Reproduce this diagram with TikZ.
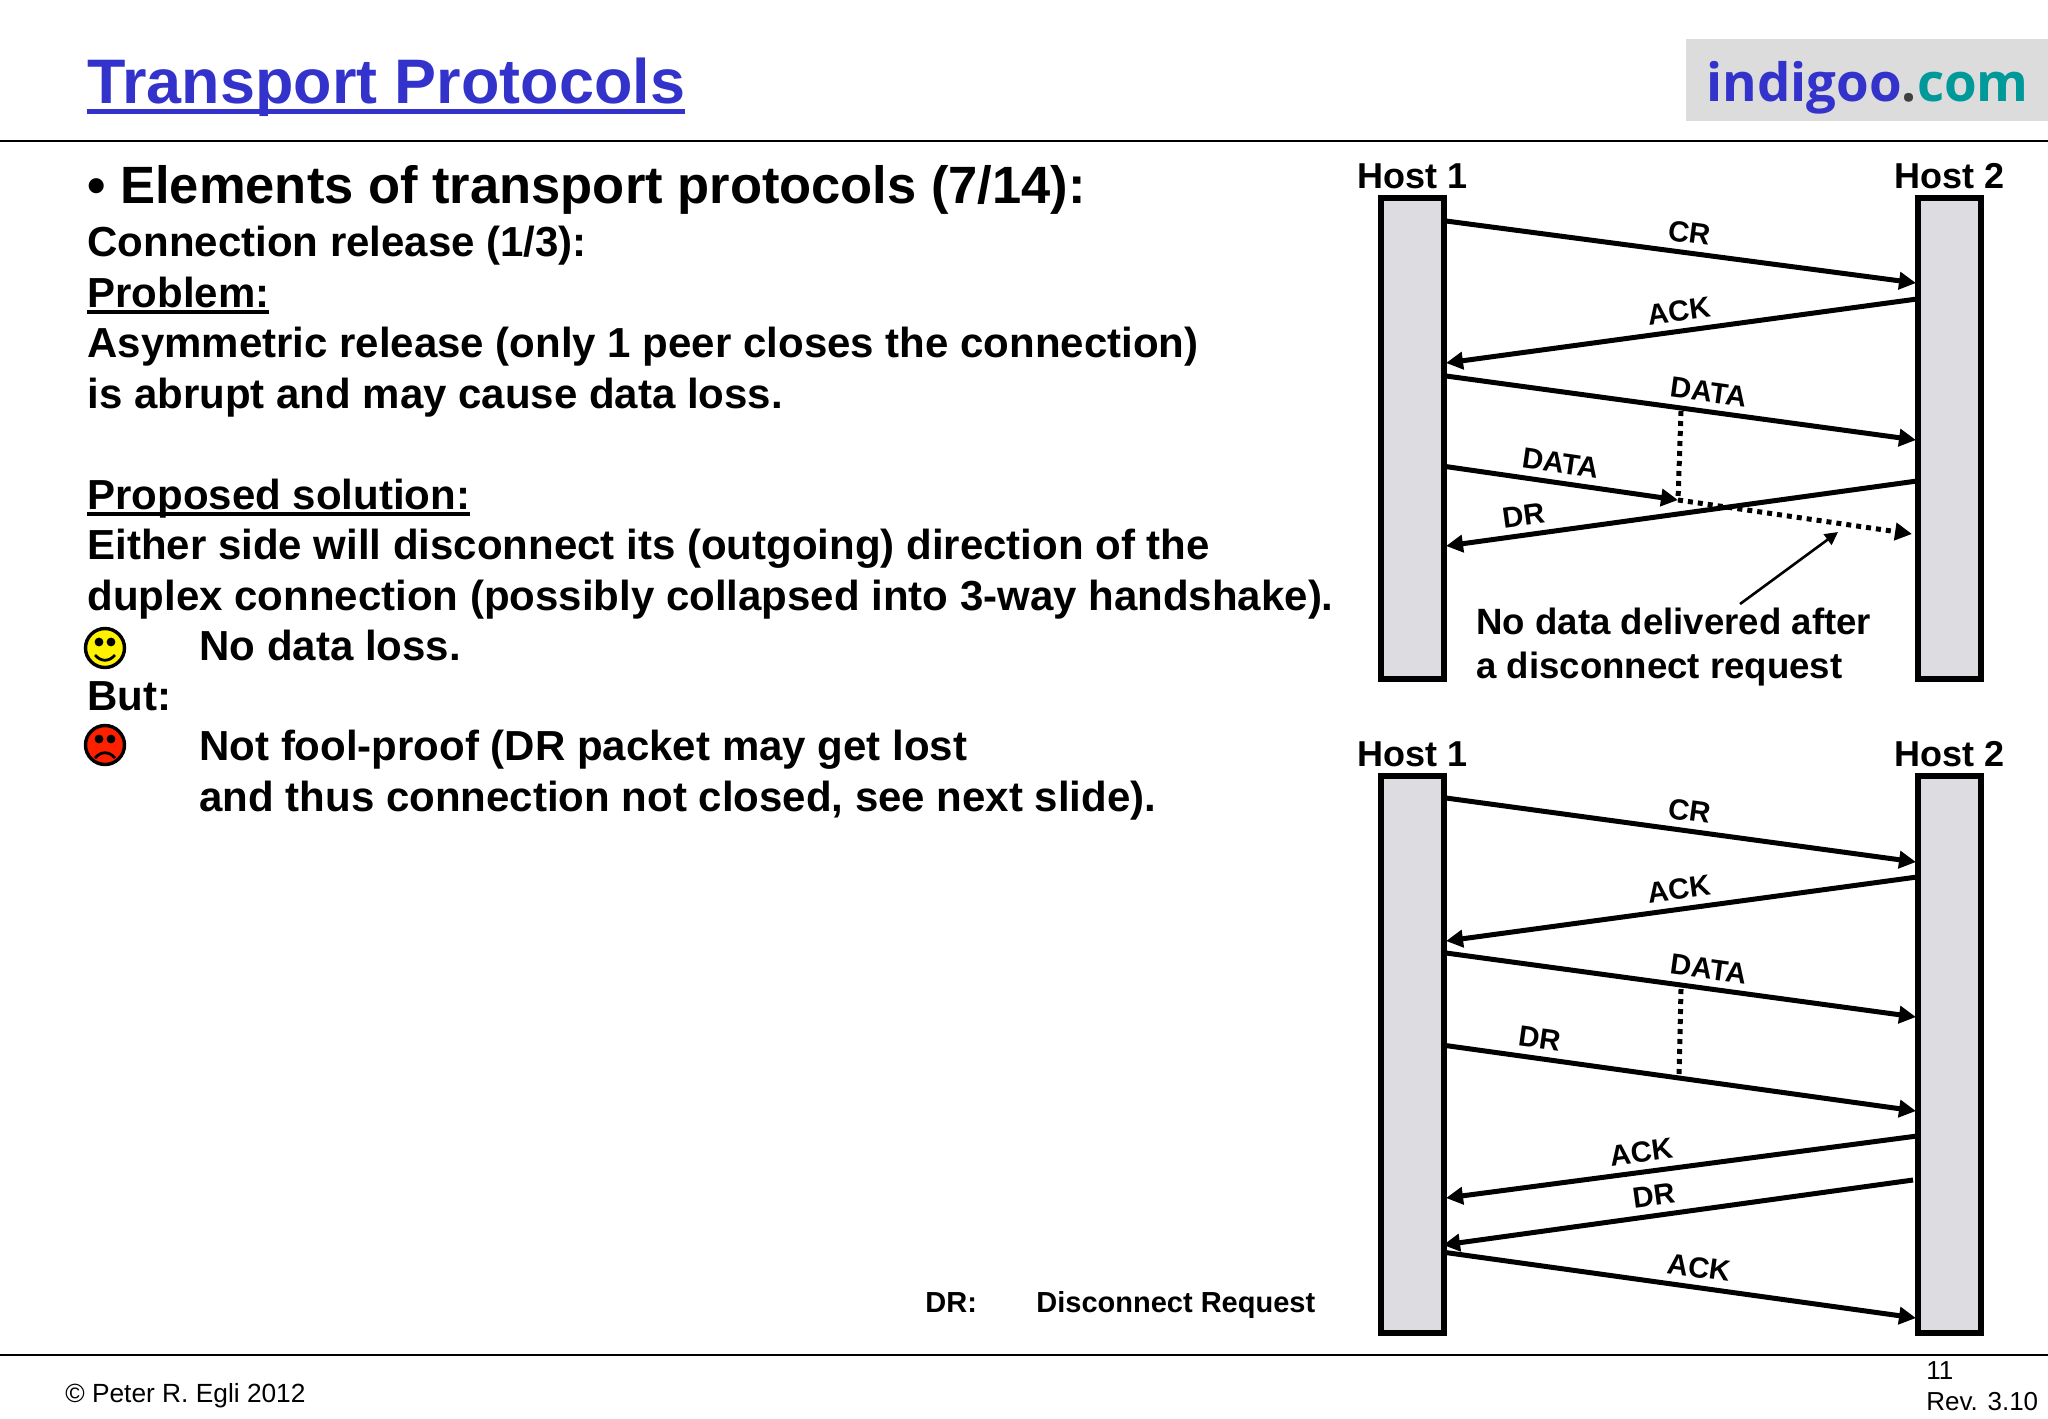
\documentclass[tikz,border=0pt]{standalone}
\usepackage{fontspec}
\setmainfont{Liberation Sans}
\newfontfamily\logofont{Open Sans}
\usetikzlibrary{arrows.meta,positioning}
\definecolor{slideblue}{HTML}{3333CC}
\definecolor{slideteal}{HTML}{009999}
\definecolor{slidegrey}{HTML}{DCDCDC}
\definecolor{hostgrey}{HTML}{DDDCE0}
\newcommand{\ulined}[1]{\sbox0{#1}\rlap{\rule[-.16em]{\wd0}{.08em}}\box0}

\begin{document}
\begin{tikzpicture}[%
  x=0.5pt, y=-0.5pt,
  every node/.style={inner sep=0pt},
  slidetext/.style={anchor=base west, align=left, font=\fontsize{21}{25.25}\selectfont\bfseries},
  hostbar/.style={draw, line width=2.7pt, fill=hostgrey, minimum width=31.5pt},
  hostname/.style={font=\fontsize{18}{20}\selectfont\bfseries},
  msg/.style={line width=2.5pt, -{Triangle[length=8.5pt,width=8.5pt]}},
  msgdots/.style={line width=2.5pt, dash pattern=on 2.5pt off 2.5pt},
  msgtext/.style={sloped, above=3.6pt, font=\fontsize{14.6}{16}\selectfont\bfseries},
  rulerline/.style={line width=1pt},
  face/.style={circle, draw, line width=1.7pt, minimum size=19.5pt}]
  \useasboundingbox (0,0) rectangle (2048,1418);

  \node [anchor=base west, text=slideblue, font=\fontsize{31.45}{36}\selectfont\bfseries] (title) at (87,104) {\ulined{Transport Protocols}};
  \node [fill=slidegrey, minimum width=181pt, minimum height=41pt] (logobox) at (1867,80) {};
  \node [anchor=base west, font=\fontsize{26.4}{32}\selectfont\logofont\bfseries] (logo) at (1706,102) {\textcolor{slideblue}{indigoo}\textcolor{darkgray}{.}\textcolor{slideteal}{com}};
  \coordinate (headL) at (0,141);
  \coordinate (headR) at (2048,141);
  \coordinate (footL) at (0,1355);
  \coordinate (footR) at (2048,1355);
  \draw [rulerline] (headL) -- (headR);
  \draw [rulerline] (footL) -- (footR);

  \node [anchor=base west, font=\fontsize{26.25}{30}\selectfont\bfseries] (heading) at (87,203) {• Elements of transport protocols (7/14):};
  \node [slidetext] (release) at (87,610) {Connection release (1/3):\\
    \ulined{Problem:}\\
    Asymmetric release (only 1 peer closes the connection)\\
    is abrupt and may cause data loss.\\[25.25pt]
    \ulined{Proposed solution:}\\
    Either side will disconnect its (outgoing) direction of the\\
    duplex connection (possibly collapsed into 3-way handshake).};
  \node [slidetext] (noloss) at (199,660) {No data loss.};
  \node [slidetext] (but) at (87,710) {But:};
  \node [slidetext] (notproof) at (199,811) {Not fool-proof (DR packet may get lost\\
    and thus connection not closed, see next slide).};

  \node [face, fill=yellow] (happy) at (105,648) {};
  \node [face, fill=red!75!orange] (sad) at (105,745) {};
  \fill ([shift={(-6,-6)}]happy.center) circle (2.2pt);
  \fill ([shift={(6,-6)}]happy.center) circle (2.2pt);
  \draw [line width=1.4pt] ([shift={(-10,7)}]happy.center) .. controls ([shift={(-4,14)}]happy.center) and ([shift={(4,14)}]happy.center) .. ([shift={(10,7)}]happy.center);
  \fill ([shift={(-6,-6)}]sad.center) circle (2.2pt);
  \fill ([shift={(6,-6)}]sad.center) circle (2.2pt);
  \draw [line width=1.4pt] ([shift={(-10,13)}]sad.center) .. controls ([shift={(-4,6)}]sad.center) and ([shift={(4,6)}]sad.center) .. ([shift={(10,13)}]sad.center);

  \node [hostbar, minimum height=240.5pt] (hostA) at (1412.5,438.5) {};
  \node [hostbar, minimum height=240.5pt] (hostB) at (1949.5,438.5) {};
  \node [hostbar, minimum height=278.5pt] (hostC) at (1412.5,1054.5) {};
  \node [hostbar, minimum height=278.5pt] (hostD) at (1949.5,1054.5) {};
  \node [hostname, above=3pt of hostA] (nameA) {Host 1};
  \node [hostname, above=3pt of hostB] (nameB) {Host 2};
  \node [hostname, above=3pt of hostC] (nameC) {Host 1};
  \node [hostname, above=3pt of hostD] (nameD) {Host 2};

  \coordinate (crA) at (1446,221);
  \coordinate (crB) at (1916,283);
  \coordinate (ackB) at (1917,299);
  \coordinate (ackA) at (1446,363);
  \coordinate (dataA) at (1446,376);
  \coordinate (dataB) at (1916,440);
  \coordinate (lostA) at (1442,466);
  \coordinate (lostM) at (1678,500);
  \coordinate (lostB) at (1912,534);
  \coordinate (lostT) at (1681,411);
  \coordinate (drB) at (1917,481);
  \coordinate (drA) at (1446,546);
  \coordinate (noteS) at (1740,604);
  \coordinate (noteE) at (1838,532);

  \draw [msg] (crA) -- node [msgtext, pos=.512] (crText) {CR} (crB);
  \draw [msg] (ackB) -- node [msgtext, pos=.5] (ackText) {ACK} (ackA);
  \draw [msg] (dataA) -- node [msgtext, pos=.553] (dataText) {DATA} (dataB);
  \draw [msg] (lostA) -- node [msgtext, pos=.49] (lostText) {DATA} (lostM);
  \draw [msg] (drB) -- node [msgtext, pos=.83] (drText) {DR} (drA);
  \draw [msgdots] (lostT) -- (lostM);
  \draw [msgdots, -{Triangle[length=8.5pt,width=8.5pt]}] (lostM) -- (lostB);
  \draw [line width=1.3pt, -{Triangle[length=6.5pt,width=6.5pt]}] (noteS) -- (noteE);
  \node [slidetext, font=\fontsize{18.3}{22}\selectfont\bfseries] (note) at (1476,678) {No data delivered after\\a disconnect request};

  \coordinate (cr2A) at (1446,798);
  \coordinate (cr2B) at (1916,862);
  \coordinate (ack2B) at (1917,877);
  \coordinate (ack2A) at (1446,941);
  \coordinate (data2A) at (1446,953);
  \coordinate (data2B) at (1916,1017);
  \coordinate (dr2A) at (1442,1045);
  \coordinate (dr2B) at (1916,1111);
  \coordinate (gapT) at (1681,989);
  \coordinate (gapB) at (1679,1076);
  \coordinate (ack3B) at (1917,1136);
  \coordinate (ack3A) at (1446,1198);
  \coordinate (dr3B) at (1913,1180);
  \coordinate (dr3A) at (1443,1245);
  \coordinate (ack4A) at (1442,1252);
  \coordinate (ack4B) at (1916,1318);

  \draw [msg] (cr2A) -- node [msgtext, pos=.512] (cr2Text) {CR} (cr2B);
  \draw [msg] (ack2B) -- node [msgtext, pos=.5] (ack2Text) {ACK} (ack2A);
  \draw [msg] (data2A) -- node [msgtext, pos=.553] (data2Text) {DATA} (data2B);
  \draw [msg] (dr2A) -- node [msgtext, pos=.2] (dr2Text) {DR} (dr2B);
  \draw [msgdots] (gapT) -- (gapB);
  \draw [msg] (ack3B) -- node [msgtext, pos=.58] (ack3Text) {ACK} (ack3A);
  \draw [msg] (dr3B) -- node [msgtext, pos=.546] (dr3Text) {DR} (dr3A);
  \draw [msg] (ack4A) -- node [msgtext, pos=.536] (ack4Text) {ACK} (ack4B);

  \node [anchor=base west, font=\fontsize{14.5}{16}\selectfont\bfseries] (drKey) at (925,1312) {DR:};
  \node [anchor=base west, font=\fontsize{14.5}{16}\selectfont\bfseries] (drMeaning) at (1036,1312) {Disconnect Request};
  \node [anchor=base west, font=\fontsize{13.15}{15}\selectfont] (copyright) at (65,1402) {© Peter R. Egli 2012};
  \node [anchor=base west, font=\fontsize{13}{15}\selectfont] (pageno) at (1926,1379) {11};
  \node [anchor=base west, font=\fontsize{13}{15}\selectfont] (rev) at (1926,1410) {Rev. 3.10};
\end{tikzpicture}
\end{document}
